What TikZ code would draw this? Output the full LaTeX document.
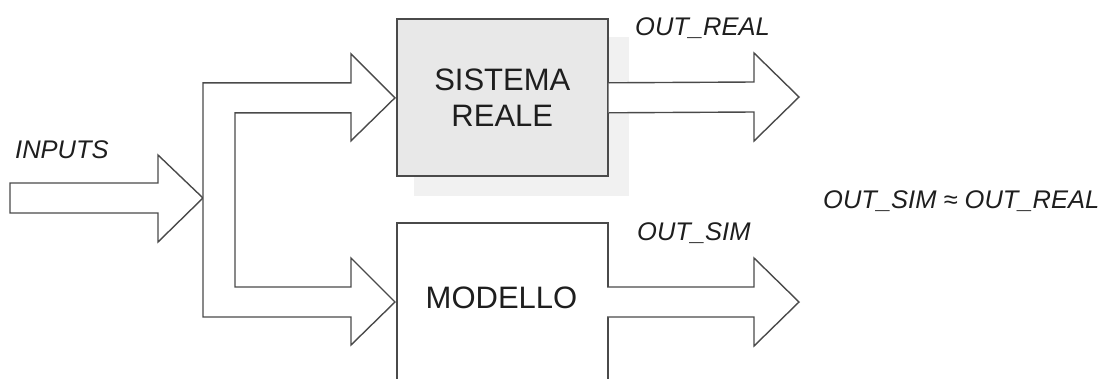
\documentclass[tikz,border=0pt]{standalone}
\usepackage{fontspec}
\setmainfont{Liberation Sans}
\usetikzlibrary{calc}

\definecolor{edge}{HTML}{4A4A4A}
\definecolor{boxfill}{HTML}{E8E8E8}
\definecolor{shadowfill}{HTML}{F1F1F1}
\definecolor{ink}{HTML}{1E1E1E}

\tikzset{
  fatline/.style={draw=edge, line width=1.4pt, line join=miter, fill=white},
  blockbox/.style={draw=edge, line width=1.6pt, anchor=north west, inner sep=0pt,
    minimum width=211pt, text=ink, align=center,
    font=\fontsize{31}{36}\selectfont},
  boxtext/.style={text=ink, inner sep=0pt, font=\fontsize{31}{36}\selectfont},
  sigtext/.style={text=ink, inner sep=0pt, anchor=base west,
    font=\fontsize{25.5}{30}\selectfont\itshape},
}

% open block arrow from #1 (tail centre) to #2 (tip)
\newcommand{\fatarrow}[2]{%
  \draw[fatline] ($(#1)+(0,-15)$) -- ($(#2)+(-45,-15)$) -- ($(#2)+(-45,-44)$)
    -- (#2) -- ($(#2)+(-45,44)$) -- ($(#2)+(-45,15)$) -- ($(#1)+(0,15)$);}

\begin{document}
\begin{tikzpicture}[x=1pt,y=-1pt]
  \useasboundingbox (0,0) rectangle (1117,378);
  \clip (0,0) rectangle (1117,378);

  % real system with its drop shadow
  \node[blockbox, minimum height=157pt] (real) at (396,18) {};
  \fill[shadowfill] ($(real.north west)+(18,19)$) rectangle ($(real.south east)+(20,19)$);
  \node[blockbox, minimum height=157pt, fill=boxfill] (real) at (396,18) {SISTEMA\\REALE};

  % model block (runs off the bottom edge)
  \node[blockbox, minimum height=200pt] (model) at (396,222) {};
  \node[boxtext] (modeltext) at (501.5,298) {MODELLO};

  % anchor points of the block arrows
  \coordinate (inTail) at (10,198);
  \coordinate (split) at (203,198);
  \coordinate (realIn) at ($(real.west)+(-1,0.5)$);
  \coordinate (modelIn) at (395,302);
  \coordinate (realOut) at ($(real.east)+(0,0.5)$);
  \coordinate (realTip) at (799,97);
  \coordinate (modelOut) at (607,302);
  \coordinate (modelTip) at (799,302);

  % input arrow
  \draw[fatline] ($(inTail)+(0,-15)$) -- ($(split)+(-45,-15)$) -- ($(split)+(-45,-43)$)
    -- (split) -- ($(split)+(-45,44)$) -- ($(split)+(-45,15)$) -- ($(inTail)+(0,15)$) -- cycle;

  % splitting arrow feeding both blocks
  \draw[fatline] ($(split|-realIn)+(0,-15)$) -- ($(realIn)+(-44,-15)$) -- ($(realIn)+(-44,-44)$)
    -- (realIn) -- ($(realIn)+(-44,43)$) -- ($(realIn)+(-44,15)$)
    -- ($(split|-realIn)+(32,15)$) -- ($(split|-modelIn)+(32,-15)$)
    -- ($(modelIn)+(-44,-15)$) -- ($(modelIn)+(-44,-44)$) -- (modelIn)
    -- ($(modelIn)+(-44,43)$) -- ($(modelIn)+(-44,15)$)
    -- ($(split|-modelIn)+(0,15)$) -- cycle;

  % output arrows
  \fatarrow{realOut}{realTip}
  \fatarrow{modelOut}{modelTip}

  % signal labels
  \node[sigtext] (inputs) at (15,158) {INPUTS};
  \node[sigtext] (outreal) at (635,35) {OUT\_REAL};
  \node[sigtext] (outsim) at (637,240) {OUT\_SIM};
  \node[sigtext] (compare) at (823,208) {OUT\_SIM ≈ OUT\_REAL};
\end{tikzpicture}
\end{document}
